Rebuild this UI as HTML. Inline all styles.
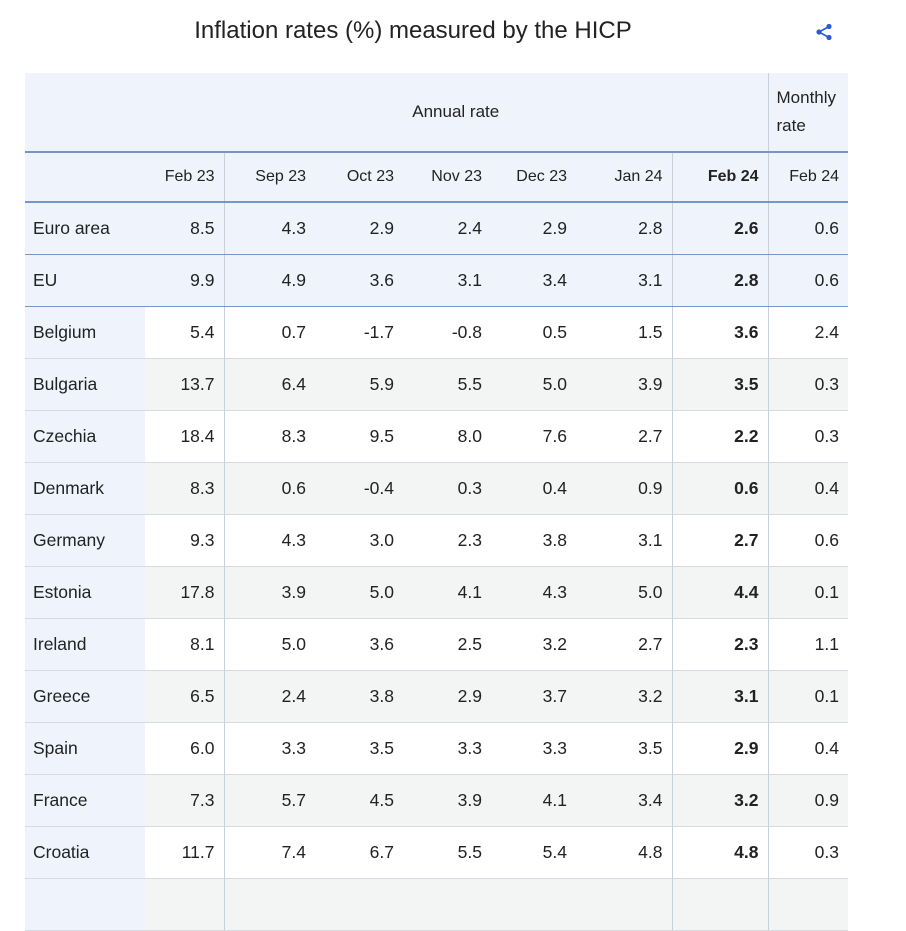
<!DOCTYPE html>
<html><head><meta charset="utf-8"><style>
body{margin:0;background:#fff;font-family:"Liberation Sans",Arial,sans-serif;color:#222;width:906px;height:892px;overflow:hidden;position:relative}
.title{position:absolute;left:0;width:826px;top:17px;text-align:center;font-size:24px;color:#222}
table{position:absolute;left:25px;top:73px;border-collapse:collapse;table-layout:fixed;width:823px;font-size:17.5px}
td,th{padding:0 9px 0 8px;text-align:right;font-weight:normal;height:52px;box-sizing:border-box}
th{font-size:16px}
tr.h1 th{height:79px;background:#eff4fc}
tr.h2 th{height:50px;background:#eff4fc;border-top:2px solid #7895c7;border-bottom:2px solid #7895c7}
.agg td{background:#eff4fc;border-bottom:1px solid #7895c7}
td:first-child{text-align:left;background:#eff4fc}
tr.c td{border-bottom:1px solid #d5dbe3}
tr.g td{background:#f3f4f4}
tr.g td:first-child,tr.w td:first-child{background:#eff4fc}
.vl{border-left:1px solid #c8d0dc}
b{font-weight:bold}
</style></head><body>
<div class="title">Inflation rates (%) measured by the HICP</div>
<svg style="position:absolute;left:815px;top:23px" width="18" height="18" viewBox="0 0 18 18"><g fill="#2b5bd6"><circle cx="14" cy="3.5" r="2.6"/><circle cx="4" cy="9" r="2.6"/><circle cx="14" cy="14.5" r="2.6"/></g><path d="M14 3.5L4 9L14 14.5" stroke="#2b5bd6" stroke-width="1.6" fill="none"/></svg>
<table>
<colgroup><col style="width:120px"><col style="width:79px"><col style="width:91px"><col style="width:88px"><col style="width:88px"><col style="width:85px"><col style="width:96px"><col style="width:96px"><col style="width:80px"></colgroup>
<tr class="h1"><th></th><th colspan="7" style="text-align:center;font-size:17px">Annual rate</th><th class="vl" style="text-align:left;line-height:28px;font-size:17px">Monthly rate</th></tr>
<tr class="h2"><th></th><th>Feb 23</th><th class="vl">Sep 23</th><th>Oct 23</th><th>Nov 23</th><th>Dec 23</th><th>Jan 24</th><th class="vl"><b>Feb 24</b></th><th class="vl">Feb 24</th></tr>
<tr class="agg"><td>Euro area</td><td>8.5</td><td class="vl">4.3</td><td>2.9</td><td>2.4</td><td>2.9</td><td>2.8</td><td class="vl"><b>2.6</b></td><td class="vl">0.6</td></tr>
<tr class="agg"><td>EU</td><td>9.9</td><td class="vl">4.9</td><td>3.6</td><td>3.1</td><td>3.4</td><td>3.1</td><td class="vl"><b>2.8</b></td><td class="vl">0.6</td></tr>
<tr class="c w"><td>Belgium</td><td>5.4</td><td class="vl">0.7</td><td>-1.7</td><td>-0.8</td><td>0.5</td><td>1.5</td><td class="vl"><b>3.6</b></td><td class="vl">2.4</td></tr>
<tr class="c g"><td>Bulgaria</td><td>13.7</td><td class="vl">6.4</td><td>5.9</td><td>5.5</td><td>5.0</td><td>3.9</td><td class="vl"><b>3.5</b></td><td class="vl">0.3</td></tr>
<tr class="c w"><td>Czechia</td><td>18.4</td><td class="vl">8.3</td><td>9.5</td><td>8.0</td><td>7.6</td><td>2.7</td><td class="vl"><b>2.2</b></td><td class="vl">0.3</td></tr>
<tr class="c g"><td>Denmark</td><td>8.3</td><td class="vl">0.6</td><td>-0.4</td><td>0.3</td><td>0.4</td><td>0.9</td><td class="vl"><b>0.6</b></td><td class="vl">0.4</td></tr>
<tr class="c w"><td>Germany</td><td>9.3</td><td class="vl">4.3</td><td>3.0</td><td>2.3</td><td>3.8</td><td>3.1</td><td class="vl"><b>2.7</b></td><td class="vl">0.6</td></tr>
<tr class="c g"><td>Estonia</td><td>17.8</td><td class="vl">3.9</td><td>5.0</td><td>4.1</td><td>4.3</td><td>5.0</td><td class="vl"><b>4.4</b></td><td class="vl">0.1</td></tr>
<tr class="c w"><td>Ireland</td><td>8.1</td><td class="vl">5.0</td><td>3.6</td><td>2.5</td><td>3.2</td><td>2.7</td><td class="vl"><b>2.3</b></td><td class="vl">1.1</td></tr>
<tr class="c g"><td>Greece</td><td>6.5</td><td class="vl">2.4</td><td>3.8</td><td>2.9</td><td>3.7</td><td>3.2</td><td class="vl"><b>3.1</b></td><td class="vl">0.1</td></tr>
<tr class="c w"><td>Spain</td><td>6.0</td><td class="vl">3.3</td><td>3.5</td><td>3.3</td><td>3.3</td><td>3.5</td><td class="vl"><b>2.9</b></td><td class="vl">0.4</td></tr>
<tr class="c g"><td>France</td><td>7.3</td><td class="vl">5.7</td><td>4.5</td><td>3.9</td><td>4.1</td><td>3.4</td><td class="vl"><b>3.2</b></td><td class="vl">0.9</td></tr>
<tr class="c w"><td>Croatia</td><td>11.7</td><td class="vl">7.4</td><td>6.7</td><td>5.5</td><td>5.4</td><td>4.8</td><td class="vl"><b>4.8</b></td><td class="vl">0.3</td></tr>
<tr class="c g"><td>&nbsp;</td><td></td><td class="vl"></td><td></td><td></td><td></td><td></td><td class="vl"></td><td class="vl"></td></tr>
</table>
</body></html>
